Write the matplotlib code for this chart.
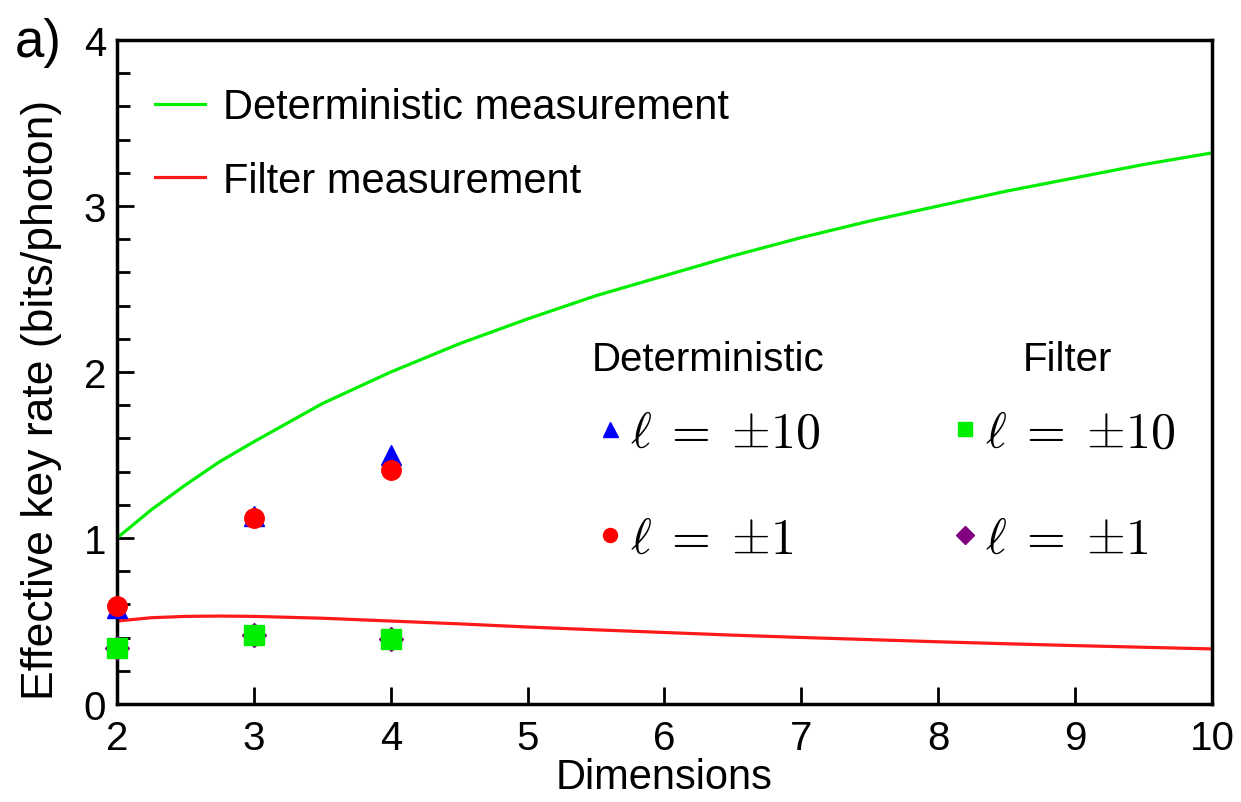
import matplotlib
matplotlib.use("Agg")
import matplotlib.pyplot as plt
from matplotlib.ticker import MultipleLocator

plt.rcParams["font.family"] = ["Liberation Sans", "DejaVu Sans"]
plt.rcParams["mathtext.fontset"] = "cm"

# curves
dims = [2, 2.25, 2.5, 2.75, 3, 3.5, 4, 4.5, 5, 5.5, 6, 6.5, 7, 7.5, 8,
        8.5, 9, 9.5, 10]
det_curve = [1.00, 1.17, 1.32, 1.46, 1.58, 1.81, 2.00, 2.17, 2.32, 2.46,
             2.58, 2.70, 2.81, 2.91, 3.00, 3.09, 3.17, 3.25, 3.32]
filt_curve = [0.50, 0.52, 0.528, 0.53, 0.528, 0.517, 0.50, 0.483, 0.464,
              0.447, 0.431, 0.415, 0.401, 0.388, 0.375, 0.363, 0.352,
              0.342, 0.332]

# measured points
meas_d = [2, 3, 4]
det_l10 = [0.58, 1.13, 1.50]
det_l1 = [0.59, 1.12, 1.41]
filt_l10 = [0.34, 0.415, 0.39]
filt_l1 = [0.34, 0.415, 0.39]

xticks = [2, 3, 4, 5, 6, 7, 8, 9, 10]
yticks = [0, 1, 2, 3, 4]

fig = plt.figure(figsize=(12.41, 8.03), dpi=100)
ax = fig.add_axes([0.0943, 0.122, 0.8823, 0.8269])

l_det, = ax.plot(dims, det_curve, color="#00ee00", lw=2.3,
                 label="Deterministic measurement")
l_filt, = ax.plot(dims, filt_curve, color="#ff1a1a", lw=2.3,
                  label="Filter measurement")

lab10 = r"$\ell\;{=}\;{\pm}10$"
lab1 = r"$\ell\;{=}\;{\pm}1$"
tri, = ax.plot(meas_d, det_l10, "^", color="#0000ff", ms=15, ls="none",
               clip_on=False, zorder=4, label=lab10)
circ, = ax.plot(meas_d, det_l1, "o", color="#ff0000", ms=14, ls="none",
                clip_on=False, zorder=5, label=lab1)
dia, = ax.plot(meas_d, filt_l1, "D", color="#800080", ms=12.5, ls="none",
               clip_on=False, zorder=4, label=lab1)
sq, = ax.plot(meas_d, filt_l10, "s", color="#00ee00", ms=14, ls="none",
              clip_on=False, zorder=5, label=lab10)

ax.set_xlim(2, 10)
ax.set_ylim(0, 4)
ax.set_xticks(xticks)
ax.set_yticks(yticks)
ax.yaxis.set_minor_locator(MultipleLocator(0.2))
ax.tick_params(axis="both", which="major", direction="in", length=12,
               width=2, labelsize=29)
ax.tick_params(axis="x", which="major", pad=11)
ax.tick_params(axis="y", which="major", pad=8)
ax.tick_params(axis="y", which="minor", direction="in", length=9, width=2)
for s in ax.spines.values():
    s.set_linewidth(2.5)

ax.set_xlabel("Dimensions", fontsize=30, labelpad=0)
ax.set_ylabel("Effective key rate (bits/photon)", fontsize=32)
ax.yaxis.set_label_coords(-0.05, 0.46)

leg1 = ax.legend(handles=[l_det, l_filt], loc="upper left",
                 bbox_to_anchor=(0.0, 0.985), frameon=False, fontsize=30,
                 handlelength=1.2, handletextpad=0.45, labelspacing=0.8)
ax.add_artist(leg1)

ax.text(0.54, 0.52, "Deterministic", transform=ax.transAxes, fontsize=29,
        ha="center", va="center")
ax.text(0.868, 0.52, "Filter", transform=ax.transAxes, fontsize=29,
        ha="center", va="center")

leg2 = ax.legend(handles=[tri, circ], loc="upper left",
                 bbox_to_anchor=(0.416, 0.48), frameon=False, fontsize=36,
                 handlelength=0.5, handletextpad=0.15, labelspacing=1.2,
                 markerscale=0.72, borderpad=0)
ax.add_artist(leg2)
leg3 = ax.legend(handles=[sq, dia], loc="upper left",
                 bbox_to_anchor=(0.74, 0.48), frameon=False, fontsize=36,
                 handlelength=0.5, handletextpad=0.15, labelspacing=1.2,
                 markerscale=0.72, borderpad=0)

fig.text(0.012, 0.978, "a)", fontsize=38, va="top")

fig.savefig("out.png", dpi=100)
